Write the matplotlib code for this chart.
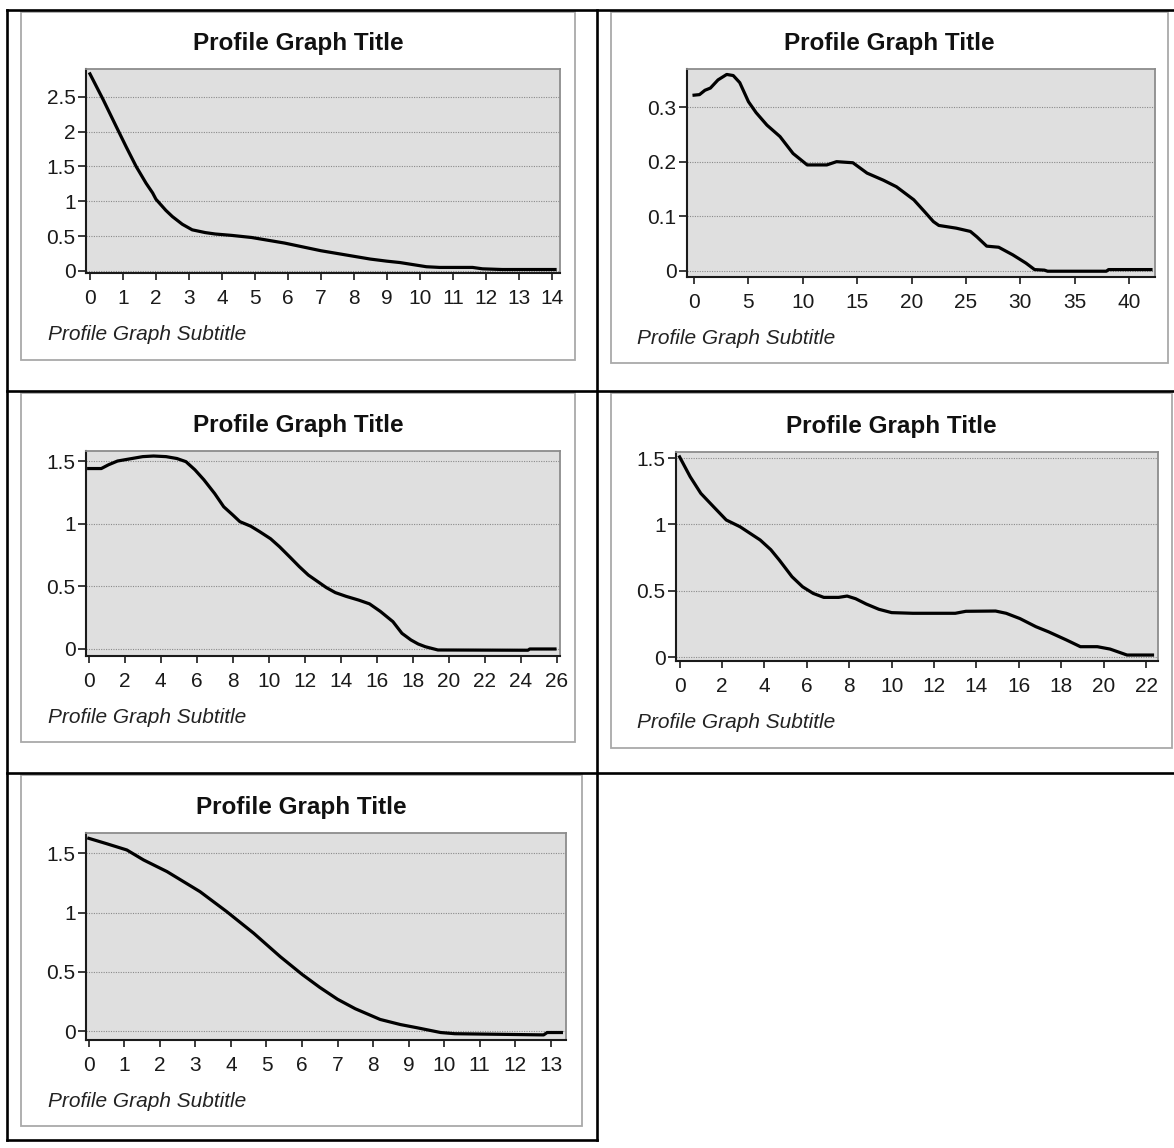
import matplotlib
matplotlib.use("Agg")
import matplotlib.pyplot as plt
from matplotlib.patches import Rectangle
from matplotlib.lines import Line2D

plt.rcParams['font.family'] = ['Liberation Sans', 'DejaVu Sans']

# ---- profile data (distance, value) ----
p1_x = [0.0, 0.4, 0.8, 1.1, 1.4, 1.7, 1.9, 2.0, 2.3, 2.5, 2.8, 3.1, 3.5, 3.8, 4.3, 4.9,
        5.4, 5.9, 6.4, 7.0, 7.5, 8.0, 8.5, 9.0, 9.4, 9.8, 10.2, 10.6, 11.2, 11.6, 11.9,
        12.5, 13.0, 13.5, 14.1]
p1_y = [2.83, 2.46, 2.07, 1.78, 1.50, 1.26, 1.12, 1.03, 0.87, 0.78, 0.67, 0.59, 0.55,
        0.53, 0.51, 0.48, 0.44, 0.40, 0.35, 0.29, 0.25, 0.21, 0.17, 0.14, 0.12, 0.09,
        0.06, 0.05, 0.05, 0.05, 0.03, 0.02, 0.02, 0.02, 0.02]

p2_x = [0.0, 0.5, 1.0, 1.5, 2.2, 3.0, 3.6, 4.2, 5.0, 5.7, 6.7, 7.9, 9.1, 10.4, 12.2,
        13.1, 14.6, 15.9, 17.4, 18.6, 20.2, 21.2, 22.0, 22.5, 24.1, 25.4, 26.0, 26.9,
        28.0, 29.3, 30.5, 31.3, 32.2, 32.5, 37.9, 38.1, 42.0]
p2_y = [0.322, 0.323, 0.331, 0.335, 0.350, 0.360, 0.358, 0.345, 0.310, 0.290, 0.267,
        0.246, 0.215, 0.194, 0.194, 0.200, 0.198, 0.179, 0.166, 0.154, 0.130, 0.108,
        0.090, 0.083, 0.078, 0.072, 0.062, 0.045, 0.043, 0.029, 0.014, 0.002, 0.001,
        -0.001, -0.001, 0.002, 0.002]

p3_x = [0.0, 0.7, 1.1, 1.6, 2.4, 3.0, 3.6, 4.3, 4.9, 5.4, 5.9, 6.4, 7.0, 7.5, 8.0, 8.4,
        9.0, 9.5, 10.1, 10.6, 11.2, 11.7, 12.2, 12.7, 13.2, 13.7, 14.3, 15.0, 15.6,
        16.2, 16.9, 17.4, 17.9, 18.3, 18.7, 19.4, 24.4, 24.5, 25.9]
p3_y = [1.44, 1.44, 1.47, 1.50, 1.52, 1.535, 1.54, 1.535, 1.52, 1.495, 1.43, 1.35, 1.24,
        1.135, 1.07, 1.016, 0.98, 0.936, 0.88, 0.816, 0.73, 0.657, 0.59, 0.54, 0.49,
        0.45, 0.42, 0.39, 0.36, 0.30, 0.218, 0.125, 0.072, 0.04, 0.018, -0.008, -0.01,
        0.0, 0.0]

p4_x = [0.0, 0.5, 1.0, 1.6, 2.2, 2.85, 3.8, 4.3, 4.7, 5.3, 5.8, 6.3, 6.8, 7.5, 7.9, 8.3,
        8.8, 9.4, 10.0, 11.0, 12.0, 13.0, 13.5, 14.9, 15.4, 16.05, 16.8, 17.4, 18.25,
        18.9, 19.7, 20.3, 21.1, 22.3]
p4_y = [1.51, 1.36, 1.235, 1.134, 1.034, 0.983, 0.883, 0.81, 0.732, 0.606, 0.53, 0.48,
        0.45, 0.45, 0.46, 0.44, 0.40, 0.36, 0.335, 0.33, 0.33, 0.33, 0.345, 0.347, 0.33,
        0.29, 0.229, 0.19, 0.128, 0.078, 0.078, 0.06, 0.015, 0.015]

p5_x = [0.0, 0.5, 1.07, 1.54, 2.2, 3.13, 3.88, 4.64, 5.39, 6.0, 6.5, 7.0, 7.5, 8.2, 8.77,
        9.24, 9.9, 10.3, 12.8, 12.9, 13.3]
p5_y = [1.625, 1.58, 1.527, 1.443, 1.345, 1.176, 1.008, 0.826, 0.628, 0.48, 0.37, 0.27,
        0.19, 0.10, 0.057, 0.03, -0.01, -0.02, -0.03, -0.01, -0.01]

p1_xticks = list(range(0, 15))
p2_xticks = list(range(0, 41, 5))
p3_xticks = list(range(0, 27, 2))
p4_xticks = list(range(0, 23, 2))
p5_xticks = list(range(0, 14))

p1_yticks = [0, 0.5, 1, 1.5, 2, 2.5]
p2_yticks = [0, 0.1, 0.2, 0.3]
p3_yticks = [0, 0.5, 1, 1.5]
p4_yticks = [0, 0.5, 1, 1.5]
p5_yticks = [0, 0.5, 1, 1.5]

title_text = "Profile Graph Title"
subtitle_text = "Profile Graph Subtitle"

# ---- layout (pixels) ----
W, H = 1174, 1148
fig = plt.figure(figsize=(W / 100, H / 100), dpi=100)
fig.patch.set_facecolor('white')


def fx(x):
    return x / W


def fy(y):
    return 1 - y / H


def fmt(v):
    if float(v).is_integer():
        return str(int(v))
    return ('%g' % v)


panels = [
    # frame box, plot box, xlim, ylim, data, ticks
    dict(frame=(21, 12, 575, 360), plot=(86, 69, 560, 273), xlim=(-0.12, 14.25),
         ylim=(-0.03, 2.90), x=p1_x, y=p1_y, xt=p1_xticks, yt=p1_yticks, sub_x=48),
    dict(frame=(611, 12, 1168, 363), plot=(687, 69, 1155, 277), xlim=(-0.65, 42.37),
         ylim=(-0.0116, 0.370), x=p2_x, y=p2_y, xt=p2_xticks, yt=p2_yticks, sub_x=637),
    dict(frame=(21, 393, 575, 742), plot=(86, 451, 560, 656), xlim=(-0.15, 26.18),
         ylim=(-0.056, 1.58), x=p3_x, y=p3_y, xt=p3_xticks, yt=p3_yticks, sub_x=48),
    dict(frame=(611, 393, 1172, 748), plot=(676, 452, 1158, 661), xlim=(-0.17, 22.56),
         ylim=(-0.03, 1.547), x=p4_x, y=p4_y, xt=p4_xticks, yt=p4_yticks, sub_x=637),
    dict(frame=(21, 775, 582, 1126), plot=(86, 833, 566, 1040), xlim=(-0.08, 13.43),
         ylim=(-0.073, 1.67), x=p5_x, y=p5_y, xt=p5_xticks, yt=p5_yticks, sub_x=48),
]

for p in panels:
    l, t, r, b = p['frame']
    fig.add_artist(Rectangle((fx(l), fy(b)), (r - l) / W, (b - t) / H,
                             transform=fig.transFigure, facecolor='white',
                             edgecolor='#a9a9a9', linewidth=1.3, zorder=-1))

    pl, pt, pr, pb = p['plot']
    ax = fig.add_axes([fx(pl), fy(pb), (pr - pl) / W, (pb - pt) / H])
    ax.set_facecolor('#dfdfdf')
    ax.plot(p['x'], p['y'], color='black', linewidth=2.3, solid_joinstyle='round',
            zorder=3)
    ax.set_xlim(*p['xlim'])
    ax.set_ylim(*p['ylim'])
    ax.set_xticks(p['xt'])
    ax.set_xticklabels([fmt(v) for v in p['xt']])
    ax.set_yticks(p['yt'])
    ax.set_yticklabels([fmt(v) for v in p['yt']])
    ax.grid(axis='y', linestyle=(0, (1, 1.2)), color='#8a8a8a', linewidth=0.8, zorder=1)
    ax.set_axisbelow(True)
    ax.tick_params(axis='y', direction='out', length=6, width=1.2, pad=1.5,
                   labelsize=15, colors='#1a1a1a')
    ax.tick_params(axis='x', direction='out', length=5, width=1.2, pad=6.5,
                   labelsize=15, colors='#1a1a1a')
    for side in ('left', 'bottom'):
        ax.spines[side].set_color('#1a1a1a')
        ax.spines[side].set_linewidth(1.5)
    for side in ('top', 'right'):
        ax.spines[side].set_color('#8c8c8c')
        ax.spines[side].set_linewidth(1.3)

    # title and subtitle
    fig.text(fx((l + r) / 2), fy(pt - 19), title_text, ha='center', va='baseline',
             fontsize=17.5, fontweight='bold', color='#111111')
    fig.text(fx(p['sub_x']), fy(pb + 67), subtitle_text, ha='left', va='baseline',
             fontsize=15, fontstyle='italic', color='#222222')

# ---- table rules ----
rule = dict(color='black', linewidth=1.9, transform=fig.transFigure, zorder=5,
            solid_capstyle='projecting')
fig.add_artist(Line2D([fx(7), fx(1174)], [fy(10), fy(10)], **rule))
fig.add_artist(Line2D([fx(7), fx(1174)], [fy(391), fy(391)], **rule))
fig.add_artist(Line2D([fx(7), fx(1174)], [fy(772.5), fy(772.5)], **rule))
fig.add_artist(Line2D([fx(7), fx(596.5)], [fy(1140), fy(1140)], **rule))
fig.add_artist(Line2D([fx(7), fx(7)], [fy(10), fy(1140)], **rule))
fig.add_artist(Line2D([fx(596.5), fx(596.5)], [fy(10), fy(1140)], **rule))

fig.savefig('out.png', dpi=100)
